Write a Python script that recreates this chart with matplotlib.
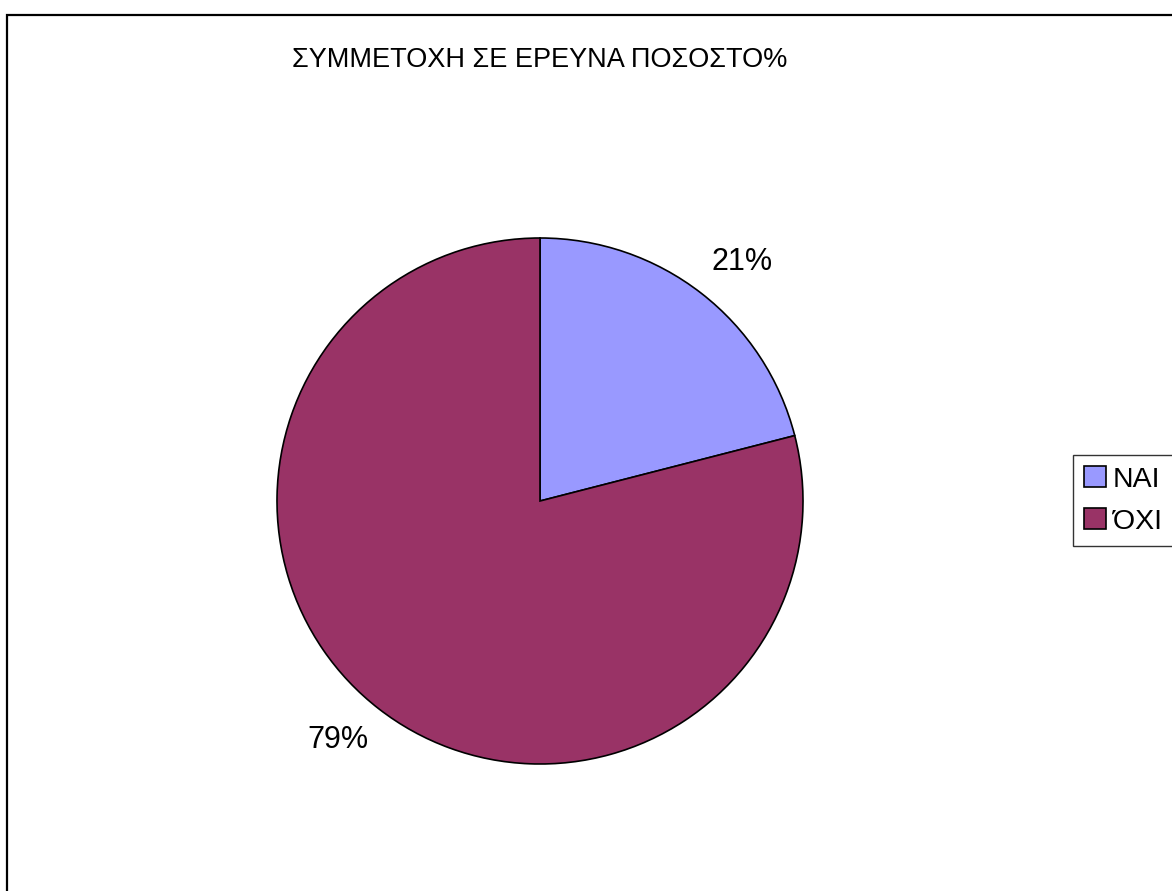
import numpy as np
import matplotlib.pyplot as plt
from matplotlib.patches import Rectangle

plt.rcParams['font.family'] = ['Liberation Sans', 'DejaVu Sans']

# survey participation shares
categories = ['ΝΑΙ', 'ΌΧΙ']
shares = [21, 79]
colors = ['#9999FF', '#993366']
title = 'ΣΥΜΜΕΤΟΧΗ ΣΕ ΕΡΕΥΝΑ ΠΟΣΟΣΤΟ%'

W, H = 1172, 891
fig = plt.figure(figsize=(W / 100, H / 100), dpi=100)

# outer chart frame, running off the right and bottom edges
fig.patches.append(Rectangle((7 / W, -0.05), 1.1, (H - 15) / H + 0.05,
                             transform=fig.transFigure, fill=False,
                             edgecolor='black', linewidth=1.6))

cx, cy, r = 540, 501, 263
ax = fig.add_axes([(cx - r) / W, (H - cy - r) / H, 2 * r / W, 2 * r / H])
wedges, _ = ax.pie(shares, colors=colors, startangle=90, counterclock=False,
                   wedgeprops=dict(edgecolor='black', linewidth=1.2))
ax.set_xlim(-1, 1)
ax.set_ylim(-1, 1)
ax.set_aspect('equal')

# percentage labels just outside each slice
for w, v in zip(wedges, shares):
    ang = np.deg2rad((w.theta1 + w.theta2) / 2 - 2.4)
    ax.text(1.19 * np.cos(ang), 1.19 * np.sin(ang), f'{v}%', fontsize=22,
            ha='center', va='center', clip_on=False)

fig.text(540 / W, 1 - 60 / H, title, ha='center', va='center', fontsize=19.5)

leg = fig.legend(wedges, categories, loc='upper left',
                 bbox_to_anchor=(1073 / W, 1 - 455 / H), fontsize=20.5,
                 handlelength=0.75, handleheight=0.75, handletextpad=0.25,
                 borderpad=0.4, labelspacing=0.55, fancybox=False,
                 frameon=True, edgecolor='black', borderaxespad=0)
leg.get_frame().set_linewidth(1.0)

fig.savefig('out.png', dpi=100)
